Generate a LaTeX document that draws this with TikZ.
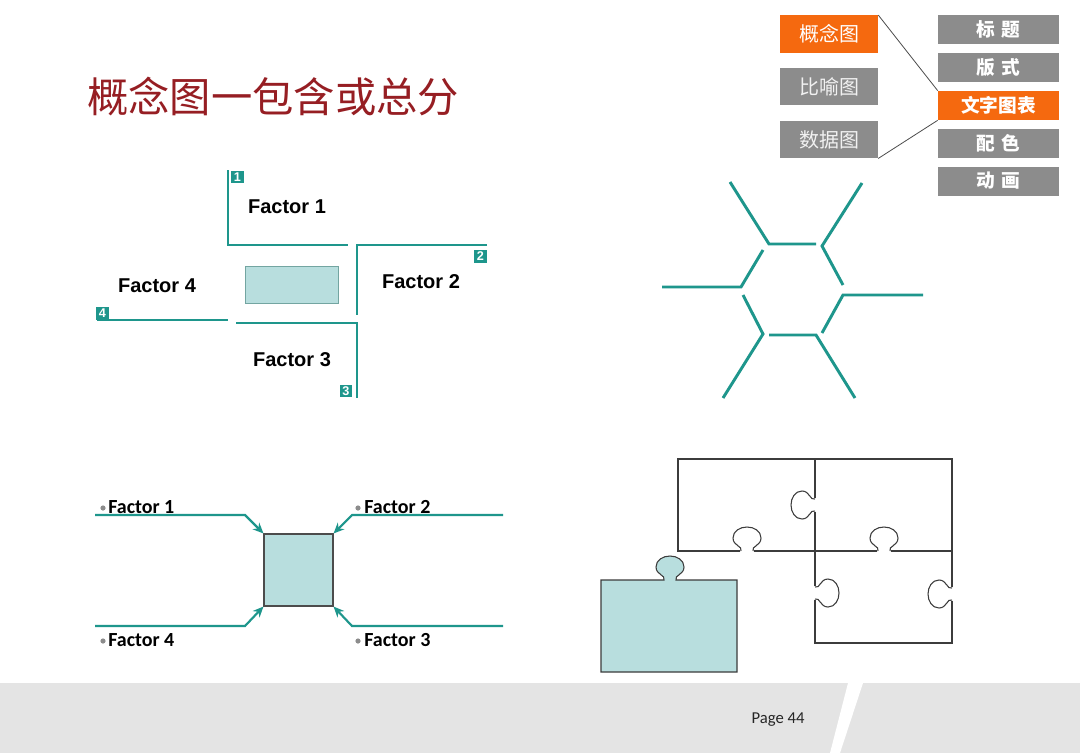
\documentclass[tikz,border=0pt]{standalone}
\usepackage{fontspec}
\setmainfont{Liberation Sans}
\newfontfamily\cjk{Noto Sans CJK SC}
\newfontfamily\calfont{Carlito}
\usetikzlibrary{arrows.meta}
\definecolor{teal1}{RGB}{30,150,140}
\definecolor{cyanfill}{RGB}{184,222,222}
\definecolor{menuorange}{RGB}{245,105,15}
\definecolor{menugray}{RGB}{140,140,140}
\definecolor{titlered}{RGB}{150,30,35}
\definecolor{footgray}{RGB}{228,228,228}
\definecolor{puzgray}{RGB}{60,60,60}
\tikzset{
  leftbox/.style={fill=menugray, minimum width=73.5pt, minimum height=28pt, inner sep=0pt, text=white!88!menugray, font=\cjk\fontsize{15pt}{15pt}\selectfont},
  rightbox/.style={fill=menugray, minimum width=90.75pt, minimum height=21.75pt, inner sep=0pt, text=white, font=\cjk\bfseries\fontsize{14pt}{14pt}\selectfont},
  hot/.style={fill=menuorange, text=white},
  link/.style={draw=black!70, line width=0.6pt},
  tline/.style={draw=teal1, line width=1.6pt},
  hexline/.style={draw=teal1, line width=2.2pt},
  badge/.style={fill=teal1, text=white, minimum size=9.5pt, inner sep=0pt, font=\bfseries\fontsize{9.5pt}{9.5pt}\selectfont},
  factorA/.style={font=\bfseries\fontsize{15pt}{15pt}\selectfont, inner sep=0pt},
  factorB/.style={font=\calfont\bfseries\fontsize{15pt}{15pt}\selectfont, inner sep=0pt, anchor=west},
  bullet/.style={fill=black!45},
  arr/.style={draw=teal1, line width=1.6pt, -{Stealth[length=8pt,width=7pt]}},
  puzline/.style={draw=puzgray, line width=0.8pt},
  knob/.pic={
    \fill[white] (-7,2) rectangle (7,-2);
    \draw[puzline] (-6,0) .. controls (-4,-5) and (-14,-5) .. (-14,-13) .. controls (-14,-20) and (-7,-24) .. (0,-24) .. controls (7,-24) and (14,-20) .. (14,-13) .. controls (14,-5) and (4,-5) .. (6,0);
  }
}
\begin{document}
\begin{tikzpicture}[x=0.75pt,y=-0.75pt]
\useasboundingbox (0,0) rectangle (1080,753);
\fill[white] (0,0) rectangle (1080,753);

% footer
\fill[footgray] (0,683) rectangle (1080,753);
\fill[white] (848,683) -- (863,683) -- (840,753) -- (830,753) -- cycle;
\node[font=\calfont\fontsize{12.5pt}{12.5pt}\selectfont, text=black!85] (page) at (778,720) {Page 44};

% title
\node[font=\cjk\fontsize{31pt}{31pt}\selectfont, text=titlered, anchor=west, inner sep=0pt] (title) at (87,97) {概念图一包含或总分};

% menu
\node[leftbox, hot] (m1) at (829,34) {概念图};
\node[leftbox] (m2) at (829,86.5) {比喻图};
\node[leftbox] (m3) at (829,139.5) {数据图};
\node[rightbox] (r1) at (998.5,29.5) {标\hspace{0.35em}题};
\node[rightbox] (r2) at (998.5,67.5) {版\hspace{0.35em}式};
\node[rightbox, hot] (r3) at (998.5,105.5) {文字图表};
\node[rightbox] (r4) at (998.5,143) {配\hspace{0.35em}色};
\node[rightbox] (r5) at (998.5,181) {动\hspace{0.35em}画};
\draw[link] (m1.north east) -- (r3.north west);
\draw[link] (m3.south east) -- (r3.south west);

% top-left diagram
\node[fill=cyanfill, draw=teal1!70!black!60, line width=0.6pt, minimum width=69.75pt, minimum height=27.75pt, inner sep=0pt] (ctr) at (291.5,284.5) {};
\draw[tline] (228,170) -- (228,245) -- (348,245);
\draw[tline] (487,245) -- (357,245) -- (357,315);
\draw[tline] (97,320) -- (228,320);
\draw[tline] (236,323) -- (357,323) -- (357,398);
\node[badge] (b1) at (237.5,177) {1};
\node[badge] (b2) at (480.5,256.5) {2};
\node[badge] (b3) at (346,391) {3};
\node[badge] (b4) at (102.5,313.5) {4};
\node[factorA] (f1) at (287,207) {Factor 1};
\node[factorA] (f2) at (421,282) {Factor 2};
\node[factorA] (f4) at (157,286) {Factor 4};
\node[factorA] (f3) at (292,360) {Factor 3};

% hexagon
\draw[hexline, line join=miter] (730,182) -- (769,244) -- (816,244);
\draw[hexline, line join=miter] (862,183) -- (822,246) -- (843,285);
\draw[hexline, line join=miter] (763,250) -- (741,287) -- (662,287);
\draw[hexline, line join=miter] (923,295) -- (843,295) -- (822,333);
\draw[hexline, line join=miter] (743,295) -- (763,334) -- (723,398);
\draw[hexline, line join=miter] (769,335) -- (816,335) -- (855,398);

% bottom-left diagram
\node[fill=cyanfill, draw=black!70, line width=0.8pt, minimum width=51.75pt, minimum height=54pt, inner sep=0pt] (sq) at (298.5,570) {};
\coordinate (a1) at (95,515);  \coordinate (a1b) at (245,515);
\coordinate (a2) at (503,515); \coordinate (a2b) at (352,515);
\coordinate (a4) at (95,626);  \coordinate (a4b) at (245,626);
\coordinate (a3) at (503,626); \coordinate (a3b) at (352,626);
\draw[arr] (a1) -- (a1b) -- (sq.north west);
\draw[arr] (a2) -- (a2b) -- (sq.north east);
\draw[arr] (a4) -- (a4b) -- (sq.south west);
\draw[arr] (a3) -- (a3b) -- (sq.south east);
\fill[bullet] (103,508) circle (2.6);
\fill[bullet] (358,508) circle (2.6);
\fill[bullet] (103,641) circle (2.6);
\fill[bullet] (358,641) circle (2.6);
\node[factorB] (g1) at (108,507) {Factor 1};
\node[factorB] (g2) at (364,507) {Factor 2};
\node[factorB] (g4) at (108,640) {Factor 4};
\node[factorB] (g3) at (364,640) {Factor 3};

% puzzle
\draw[puzline] (678,459) rectangle (815,551);
\draw[puzline] (815,459) rectangle (952,551);
\draw[puzline] (815,551) rectangle (952,643);
\pic[rotate=90] at (815,505) {knob};
\pic at (747,551) {knob};
\pic at (884,551) {knob};
\pic[rotate=-90] at (815,593) {knob};
\pic[rotate=90] at (952,594) {knob};
\draw[puzline, fill=cyanfill] (601,580) -- (664,580) .. controls (666,575) and (656,575) .. (656,567) .. controls (656,560) and (663,556) .. (670,556) .. controls (677,556) and (684,560) .. (684,567) .. controls (684,575) and (674,575) .. (676,580) -- (737,580) -- (737,672) -- (601,672) -- cycle;
\end{tikzpicture}
\end{document}
